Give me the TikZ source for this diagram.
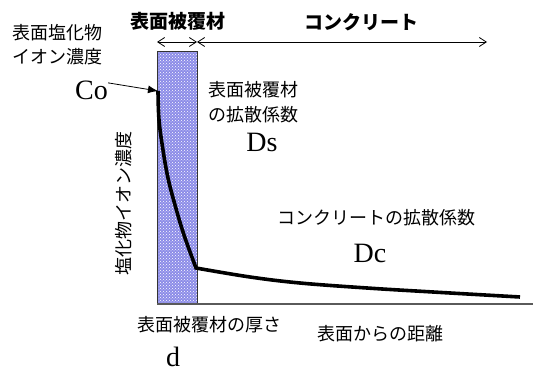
\documentclass[tikz,border=0pt]{standalone}
\usepackage{fontspec}
\setmainfont{Liberation Serif}
\newfontfamily\jp{Noto Sans CJK JP}
\usetikzlibrary{arrows.meta,patterns}
\definecolor{coatblue}{RGB}{140,140,232}
\definecolor{axisgray}{RGB}{90,90,90}
\begin{document}
\begin{tikzpicture}[x=1pt,y=-1pt,
  jtext/.style={font=\jp\fontsize{18}{22}\selectfont, inner sep=0pt},
  jbold/.style={font=\jp\bfseries\fontsize{19}{22}\selectfont, inner sep=0pt},
  ltext/.style={font=\fontsize{28}{30}\selectfont, inner sep=0pt},
  curveline/.style={line width=3.6pt, line join=miter},
  dimline/.style={line width=0.8pt, {Straight Barb[length=7pt,width=9pt]}-{Straight Barb[length=7pt,width=9pt]}},
  coarrow/.style={line width=0.8pt, -{Latex[length=10pt,width=8pt]}},
]
\useasboundingbox (0,0) rectangle (535,371);

% coating layer
\fill[coatblue] (157,52) rectangle (197,304);
\fill[pattern=crosshatch dots, pattern color=white] (157,52) rectangle (197,304);
\draw[black!80, line width=1pt] (157,52) rectangle (197,304);

% x axis
\coordinate (O) at (157,304);
\coordinate (xend) at (533,304);
\draw[axisgray, line width=1.3pt] (O) -- (xend);

% top dimension arrows
\coordinate (a1) at (157,42);
\coordinate (a2) at (197,42);
\coordinate (a3) at (487,42);
\draw[dimline] (a1) -- (a2);
\draw[dimline] (a2) -- (a3);
\node[jbold] (tcoat) at (178,21) {表面被覆材};
\node[jbold] (tconc) at (361,22) {コンクリート};

% left labels
\node[jtext, anchor=west] (surf1) at (12,33) {表面塩化物};
\node[jtext, anchor=west] (surf2) at (12,57) {イオン濃度};
\node[ltext, anchor=base west] (Co) at (75,100) {Co};
\coordinate (ctop) at (158,91);
\draw[coarrow] ([yshift=8pt]Co.east) -- (ctop);

% concentration curve
\draw[curveline] plot[smooth, tension=0.6] coordinates {(158,91) (159,120) (163,150) (168,178) (175,205) (184,235) (196,268)}
  -- plot[smooth, tension=0.6] coordinates {(196,268) (250,277) (300,283) (367,288) (433,292) (520,297)};

% coating diffusion
\node[jtext, anchor=west] (ds1) at (208,90) {表面被覆材};
\node[jtext, anchor=west] (ds2) at (208,115) {の拡散係数};
\node[ltext, anchor=base] (Ds) at (262,152) {Ds};

% concrete diffusion
\node[jtext, anchor=west] (dc1) at (277,218) {コンクリートの拡散係数};
\node[ltext, anchor=base] (Dc) at (370,262) {Dc};

% y axis label
\node[jtext, rotate=90] (ylab) at (124,204) {塩化物イオン濃度};

% bottom labels
\node[jtext, anchor=west] (thick) at (137,325) {表面被覆材の厚さ};
\node[jtext, anchor=west] (dist) at (317,334) {表面からの距離};
\node[ltext, anchor=base] (d) at (173,366) {d};
\end{tikzpicture}
\end{document}
